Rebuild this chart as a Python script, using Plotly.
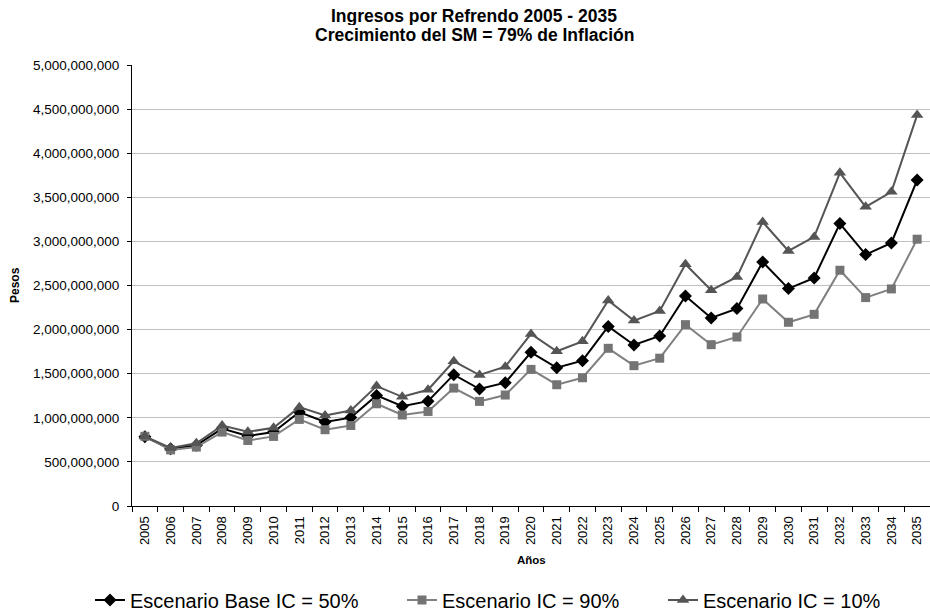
import plotly.graph_objects as go

years = [str(y) for y in range(2005, 2036)]

# values in millions of pesos
base_50 = [785, 648, 688, 877, 795, 838, 1065, 952, 1002, 1254, 1132, 1189, 1489, 1326, 1398,
           1743, 1567, 1648, 2036, 1826, 1927, 2381, 2132, 2238, 2767, 2465, 2586, 3203, 2851,
           2983, 3695]
ic_90 = [790, 636, 668, 838, 743, 789, 982, 865, 913, 1159, 1032, 1072, 1337, 1186, 1258,
         1549, 1375, 1454, 1788, 1591, 1676, 2056, 1829, 1916, 2347, 2083, 2173, 2673, 2363,
         2461, 3025]
ic_10 = [788, 659, 712, 913, 841, 886, 1121, 1027, 1083, 1360, 1238, 1318, 1640, 1485, 1580,
         1951, 1754, 1867, 2330, 2102, 2212, 2741, 2446, 2597, 3221, 2892, 3051, 3778, 3392,
         3562, 4432]

names = ["Escenario Base IC = 50%", "Escenario IC = 90%", "Escenario IC = 10%"]
title_lines = ["Ingresos por Refrendo 2005 - 2035", "Crecimiento del SM = 79% de Inflación"]

FONT = "Liberation Sans, Arial, sans-serif"
W, H = 930, 613
L, R, T, B = 132, 0, 65, 107
pw, ph = W - L - R, H - T - B

fig = go.Figure()
series = [
    (base_50, names[0], "#000000", "#000000", "diamond", 10, "legend", 90),
    (ic_90, names[1], "#808080", "#747474", "square", 9, "legend2", 402),
    (ic_10, names[2], "#555555", "#555555", "triangle-up", 11, "legend3", 663),
]
legend_cfg = {}
for vals, name, lc, mc, sym, sz, lg, lx in series:
    fig.add_trace(go.Scatter(
        x=years, y=[v * 1e6 for v in vals], name=name, mode="lines+markers",
        line=dict(color=lc, width=2),
        marker=dict(symbol=sym, size=sz, color=mc, line=dict(width=0)),
        legend=lg,
    ))
    legend_cfg[lg] = dict(orientation="h", xref="container", yref="container", x=lx / W,
                          y=1 - 600 / H, xanchor="left", yanchor="middle",
                          font=dict(size=20, family=FONT, color="#000"),
                          bgcolor="rgba(0,0,0,0)", itemclick=False)


def px(xp):
    return (xp - L) / pw


def py(yp):
    return (H - B - yp) / ph


annotations = [
    dict(text="<b>%s</b>" % title_lines[0], x=px(474), y=py(15), xref="paper", yref="paper",
         height=19, showarrow=False, font=dict(size=17.5, family=FONT, color="#000"),
         xanchor="center", yanchor="middle"),
    dict(text="<b>%s</b>" % title_lines[1], x=px(474), y=py(34.5), xref="paper", yref="paper",
         height=19, showarrow=False, font=dict(size=17.5, family=FONT, color="#000"),
         xanchor="center", yanchor="middle"),
    dict(text="<b>Pesos</b>", x=px(15), y=py(285), xref="paper", yref="paper", textangle=-90,
         showarrow=False, font=dict(size=12, family=FONT, color="#000"), xanchor="center", yanchor="middle"),
    dict(text="<b>Años</b>", x=px(531), y=py(560), xref="paper", yref="paper",
         showarrow=False, font=dict(size=11.5, family=FONT, color="#000"), xanchor="center", yanchor="middle"),
]

fig.update_layout(
    width=W, height=H,
    margin=dict(l=L, r=R, t=T, b=B),
    paper_bgcolor="white", plot_bgcolor="white",
    font=dict(family=FONT, color="#000"),
    showlegend=True,
    annotations=annotations,
    **legend_cfg,
)
fig.update_xaxes(
    type="category", showline=True, linecolor="#000", linewidth=1,
    ticks="outside", tickson="boundaries", ticklen=5, tickcolor="#000",
    tickangle=-90, tickfont=dict(size=13, family=FONT, color="#000"),
    ticklabelstandoff=4,
    showgrid=False, mirror=False, range=[-0.5, 30.5],
)
fig.update_yaxes(
    range=[0, 5e9], dtick=5e8, tick0=0, tickformat=",d",
    showline=True, linecolor="#000", linewidth=1,
    ticks="outside", ticklen=4, tickcolor="#000",
    tickfont=dict(size=13.5, family=FONT, color="#000"),
    ticklabelstandoff=5,
    showgrid=True, gridcolor="#c0c0c0", gridwidth=1, zeroline=False,
)

fig.write_html("out.html")
